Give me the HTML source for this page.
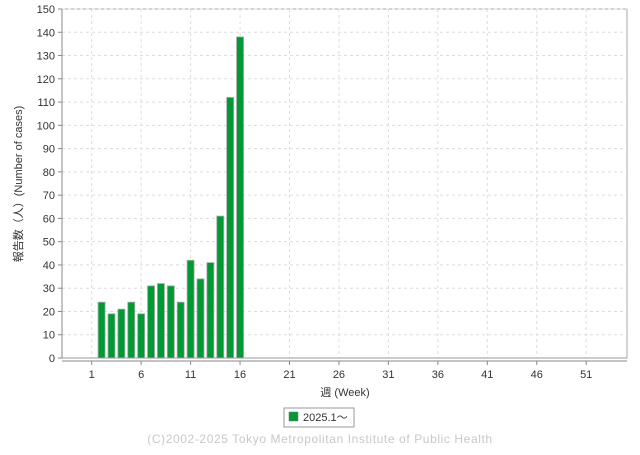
<!DOCTYPE html>
<html><head><meta charset="utf-8"><style>
body{margin:0;background:#fff;width:640px;height:450px;overflow:hidden;font-family:"Liberation Sans","Noto Sans CJK JP",sans-serif}
</style></head><body>
<svg id="chart" width="640" height="450" xmlns="http://www.w3.org/2000/svg" font-family="Liberation Sans, Noto Sans CJK JP, sans-serif">
<g id="grid"></g>
<g id="bars"></g>
<g id="axes"></g>
<text transform="translate(22,184) rotate(-90)" text-anchor="middle" font-size="11" fill="#333">報告数（人）(Number of cases)</text>
<text x="345" y="396" text-anchor="middle" font-size="11" fill="#333">週 (Week)</text>
<g>
<rect x="284" y="408" width="70" height="19" fill="#fff" stroke="#999"/>
<rect x="289" y="412" width="9" height="9" fill="#009933" stroke="#777" stroke-width="0.5"/>
<text x="303" y="421" font-size="11" fill="#333">2025.1～</text>
</g>
<text x="320" y="443" text-anchor="middle" font-size="12" fill="#c8c8c8" letter-spacing="0.6">(C)2002-2025 Tokyo Metropolitan Institute of Public Health</text>
</svg>
<script>
const weeks=[1,2,3,4,5,6,7,8,9,10,11,12,13,14,15,16];
const cases=[0,24,19,21,24,19,31,32,31,24,42,34,41,61,112,138];
const yTicks=[0,10,20,30,40,50,60,70,80,90,100,110,120,130,140,150];
const xTicks=[1,6,11,16,21,26,31,36,41,46,51];
const NS="http://www.w3.org/2000/svg";
const L=62,R=627,T=9,B=358,YMAX=150;
const x=w=>91.7+(w-1)*9.89;
const y=v=>B-(v/YMAX)*(B-T);
function mk(tag,attrs,parent){const e=document.createElementNS(NS,tag);for(const k in attrs)e.setAttribute(k,attrs[k]);parent.appendChild(e);return e;}
const grid=document.getElementById('grid'),bars=document.getElementById('bars'),axes=document.getElementById('axes');
mk('rect',{x:L,y:T,width:R-L,height:B-T,fill:'#fff',stroke:'#aaa'},grid);
yTicks.forEach(v=>{
 const g=mk('line',{x1:L,x2:R,y1:y(v),y2:y(v),stroke:'#ddd','stroke-dasharray':'3,3'},grid);
 
 
 mk('line',{x1:L-4,x2:L,y1:y(v),y2:y(v),stroke:'#888'},axes);
 const t=mk('text',{x:L-7,y:y(v)+4,'text-anchor':'end','font-size':'11',fill:'#333'},axes);
 t.textContent=v;
 
 
});
xTicks.forEach(w=>{
 const g=mk('line',{x1:x(w),x2:x(w),y1:T,y2:B,stroke:'#ddd','stroke-dasharray':'3,3'},grid);
 
 
 mk('line',{x1:x(w),x2:x(w),y1:B+3,y2:B+7,stroke:'#888'},axes);
 const t=mk('text',{x:x(w),y:B+20,'text-anchor':'middle','font-size':'11',fill:'#333'},axes);
 t.textContent=w;
 
 
});
mk('line',{x1:L,x2:R,y1:B+3,y2:B+3,stroke:'#888'},axes);
mk('line',{x1:L,x2:L,y1:T,y2:B,stroke:'#888'},axes);
mk('line',{x1:L,x2:R,y1:B,y2:B,stroke:'#999'},axes);
weeks.forEach((w,i)=>{
 const v=cases[i]; if(!v) return;
 const r=mk('rect',{x:x(w)-3.5,y:y(v),width:7,height:B-y(v),fill:'#009933',stroke:'#aaa','stroke-width':'0.8'},bars);
 
 
});
</script>
</body></html>
